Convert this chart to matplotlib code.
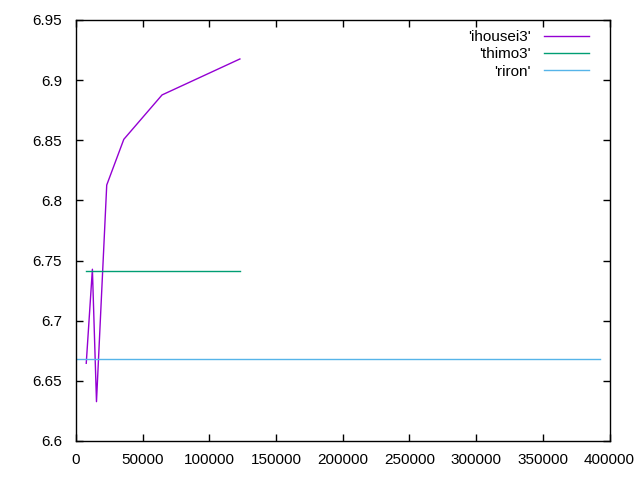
import matplotlib.pyplot as plt
from matplotlib.ticker import FuncFormatter

plt.rcParams['font.family'] = ['Liberation Sans', 'DejaVu Sans']

# datos
ihousei3_x = [7680, 12288, 15360, 23040, 35840, 64512, 122880]
ihousei3_y = [6.6646, 6.7428, 6.6327, 6.8128, 6.8508, 6.8877, 6.9176]
thimo3_x = [7680, 122880]
thimo3_y = [6.7411, 6.7411]
riron_x = [0, 393216]
riron_y = [6.6679, 6.6679]

xticks = [0, 50000, 100000, 150000, 200000, 250000, 300000, 350000, 400000]
yticks = [6.6, 6.65, 6.7, 6.75, 6.8, 6.85, 6.9, 6.95]

fig = plt.figure(figsize=(6.4, 4.8), dpi=100)
ax = fig.add_axes([76 / 640, 39 / 480, 533.5 / 640, 421 / 480])

ax.plot(ihousei3_x, ihousei3_y, color='#9400d3', lw=1, label="'ihousei3'")
ax.plot(thimo3_x, thimo3_y, color='#009e73', lw=1, label="'thimo3'")
ax.plot(riron_x, riron_y, color='#56b4e9', lw=1, label="'riron'")

ax.set_xlim(0, 400000)
ax.set_ylim(6.6, 6.95)
ax.set_xticks(xticks)
ax.set_yticks(yticks)
ax.xaxis.set_major_formatter(FuncFormatter(lambda v, p: '%d' % v))
ax.yaxis.set_major_formatter(FuncFormatter(lambda v, p: '%g' % round(v, 2)))
ax.tick_params(direction='in', top=True, right=True, length=5, width=1,
               labelsize=11)
ax.tick_params(axis='y', pad=10)
ax.tick_params(axis='x', pad=9)
for s in ax.spines.values():
    s.set_linewidth(1)

ax.legend(loc='upper right', bbox_to_anchor=(0.981, 1.0), frameon=False,
          markerfirst=False, fontsize=11, handlelength=2.95,
          labelspacing=0.22, borderaxespad=0.25, handletextpad=0.9)

fig.savefig('out.png', dpi=100)
